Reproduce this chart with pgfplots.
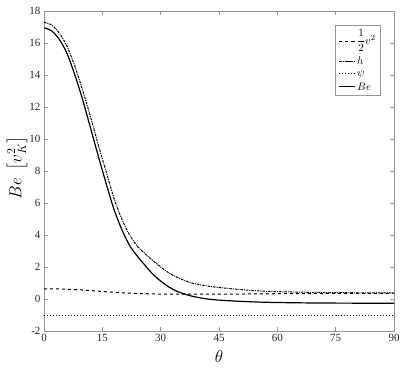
\documentclass[border=0pt]{standalone}
\usepackage{amsmath}
\usepackage{fontspec}
\setmainfont{Liberation Serif}
\usepackage{pgfplots}
\pgfplotsset{compat=1.18}
\usetikzlibrary{calc}
\definecolor{axgray}{RGB}{150,150,150}

\pgfplotstableread{
theta Be h
0  16.95 17.30
2  16.75 17.12
4  16.20 16.60
6  15.30 15.75
8  13.95 14.50
10 12.40 13.00
12 10.65 11.35
14  8.90  9.60
16  7.20  7.95
18  5.60  6.30
20  4.35  5.00
22  3.35  4.00
24  2.68  3.30
26  2.10  2.83
28  1.55  2.40
30  1.12  2.00
32  0.77  1.65
34  0.50  1.38
36  0.32  1.17
38  0.18  1.00
40  0.08  0.90
42  0.00  0.81
45 -0.07  0.72
50 -0.14  0.60
55 -0.19  0.51
60 -0.22  0.46
70 -0.25  0.41
80 -0.26  0.39
90 -0.27  0.38
}\curves

\pgfplotstableread{
theta k psi
0  0.64 -1
5  0.62 -1
10 0.56 -1
15 0.47 -1
20 0.39 -1
25 0.34 -1
30 0.31 -1
40 0.30 -1
50 0.31 -1
60 0.33 -1
75 0.35 -1
90 0.36 -1
}\kinetic

\begin{document}
\begin{tikzpicture}
\begin{axis}[
  scale only axis,
  width=350pt, height=320pt,
  xmin=0, xmax=90, ymin=-2, ymax=18,
  xtick={0,15,...,90}, ytick={-2,0,...,18},
  tick align=inside, major tick length=4pt,
  axis line style={axgray, line width=0.5pt},
  tick style={axgray, line width=0.5pt},
  ticklabel style={font=\fontsize{11}{13}\selectfont, text=black!85},
  /pgf/number format/assume math mode=true,
  xlabel={$\theta$}, ylabel={$Be\ \left[v_K^2\right]$},
  xlabel style={font=\fontsize{18}{21}\selectfont, inner sep=0pt,
    at={(axis description cs:0.5,-0.081)}, anchor=center},
  ylabel style={font=\fontsize{18}{21}\selectfont, inner sep=0pt,
    at={(axis description cs:-0.077,0.51)}, anchor=center},
  legend style={at={(0.962,0.956)}, anchor=north east, draw=axgray,
    font=\fontsize{11}{13}\selectfont, row sep=0pt, inner sep=3pt,
    nodes={text height=, text depth=}},
  legend cell align=left,
  legend image post style={xscale=0.9},
]
\addplot[black, line width=1pt, dashed, smooth] table[x=theta, y=k] {\kinetic};
\addlegendentry{\raisebox{0pt}[14pt][9pt]{$\dfrac{1}{2}v^2$}}
\addplot[black, line width=1pt, dash pattern=on 2.5pt off 1pt on 1pt off 1pt, smooth] table[x=theta, y=h] {\curves};
\addlegendentry{$h$}
\addplot[black, line width=1pt, dotted] table[x=theta, y=psi] {\kinetic};
\addlegendentry{$\psi$}
\addplot[black, line width=1.2pt, smooth] table[x=theta, y=Be] {\curves};
\addlegendentry{$Be$}
\end{axis}
\path ($(current axis.south west)+(-44pt,-39pt)$) ($(current axis.north east)+(13pt,11pt)$);
\end{tikzpicture}
\end{document}
